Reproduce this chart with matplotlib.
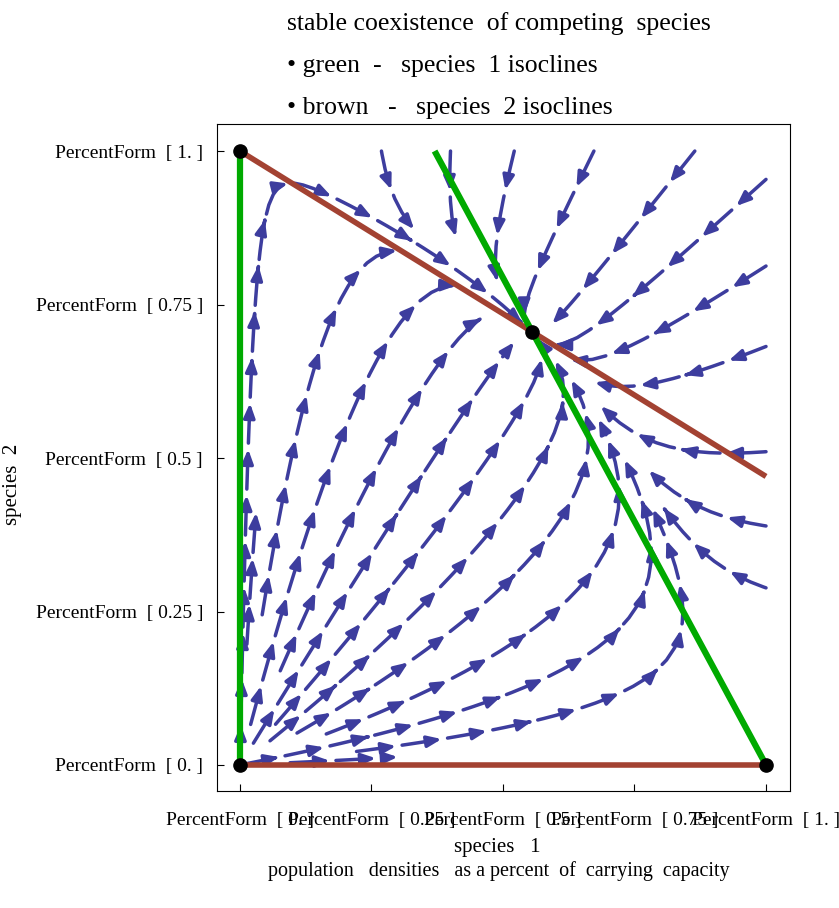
"""
Competing species (Lotka-Volterra competition) phase portrait:
stream lines of the scaled model with both sets of isoclines.
"""

import numpy as np
import matplotlib.pyplot as plt
from matplotlib.path import Path
from matplotlib.patches import FancyArrowPatch

plt.rcParams['font.family'] = ['Liberation Serif', 'DejaVu Serif']

#
#  Model parameters: competition coefficients and growth rates
#

alpha12 = 0.63      # effect of species 2 on species 1
alpha21 = 0.53      # effect of species 1 on species 2
r1 = 1.0
r2 = 1.0

#
#  Seed points for the stream lines: a fan out of the origin,
#  then the top edge and the right edge
#

seed_x = [0.008, 0.021, 0.052, 0.093, 0.136, 0.176, 0.212, 0.243, 0.267, 0.285, 0.294, 0.298, 0.300,
          0.27, 0.40, 0.52, 0.67, 0.86,
          0.995, 0.995, 0.995, 0.995, 0.995, 0.995]
seed_y = [0.300, 0.299, 0.295, 0.285, 0.267, 0.243, 0.212, 0.176, 0.136, 0.093, 0.057, 0.031, 0.013,
          0.995, 0.995, 0.995, 0.995, 0.995,
          0.95, 0.81, 0.68, 0.51, 0.39, 0.29]

#
#  Tick positions and text
#

tick_vals = [0, 0.25, 0.5, 0.75, 1]
tick_text = ['0.', '0.25', '0.5', '0.75', '1.']

title_lines = ['stable coexistence  of competing  species',
               '\u2022 green  -   species  1 isoclines',
               '\u2022 brown   -   species  2 isoclines']

stream_color = '#3d3d9e'
green = '#00aa00'
brown = '#a34232'

#
#  Vector field on the unit square
#

xs = np.linspace(0, 1, 120)
ys = np.linspace(0, 1, 120)
X, Y = np.meshgrid(xs, ys)
U = r1*X*(1 - X - alpha12*Y)
V = r2*Y*(1 - Y - alpha21*X)

#  Coexistence equilibrium
xe = (1 - alpha12)/(1 - alpha12*alpha21)
ye = 1 - alpha21*xe

fig = plt.figure(figsize=(8.39, 9.08), dpi=100)
ax = fig.add_axes([0.2586, 0.1289, 0.683, 0.7345])
ax.set_xlim(-0.0437, 1.0456)
ax.set_ylim(-0.0423, 1.044)

strm = ax.streamplot(X, Y, U, V, density=1.3, color=stream_color,
                     linewidth=2.5, start_points=np.column_stack([seed_x, seed_y]),
                     minlength=0.05, zorder=1)

#
#  Each stream line comes back as one polyline; redraw it as a run
#  of short arrows (dash + head) and drop the default arrows.
#

polylines = [np.asarray(s) for s in strm.lines.get_segments()]
strm.lines.remove()
for p in list(ax.patches):
    p.remove()

dash_px = 40
gap_px = 6

for pts in polylines:
    if pts[:, 0].max() < 0.01 or pts[:, 1].max() < 0.01:
        continue
    disp = ax.transData.transform(pts)
    d = np.r_[0, np.cumsum(np.hypot(*np.diff(disp, axis=0).T))]
    if d[-1] < 15:
        continue
    s0 = 0.0
    while s0 < d[-1] - 12:
        s1 = min(s0 + dash_px, d[-1])
        inner = (d > s0) & (d < s1)
        t = np.r_[s0, d[inner], s1]
        chunk = np.column_stack([np.interp(t, d, pts[:, 0]),
                                 np.interp(t, d, pts[:, 1])])
        arr = FancyArrowPatch(path=Path(chunk),
                              arrowstyle='-|>,head_length=0.6,head_width=0.24',
                              mutation_scale=14, color=stream_color, lw=2.5,
                              shrinkA=0, shrinkB=0, zorder=1)
        ax.add_patch(arr)
        s0 = s1 + gap_px

#  Species 2 isoclines: y = 0 and y = 1 - alpha21*x
ax.plot([0, 1], [0, 0], color=brown, lw=4, solid_capstyle='butt', zorder=3)
ax.plot([0, 1], [1, 1 - alpha21], color=brown, lw=4, solid_capstyle='butt', zorder=3)

#  Species 1 isoclines: x = 0 and x = 1 - alpha12*y
ax.plot([0, 0], [0, 1], color=green, lw=4.5, solid_capstyle='butt', zorder=4)
ax.plot([1, 1 - alpha12], [0, 1], color=green, lw=4.5, solid_capstyle='butt', zorder=4)

#  Equilibrium points
ax.plot([0, 0, 1, xe], [0, 1, 0, ye], 'o', color='black', ms=9.5, zorder=5)

labels = ['PercentForm  [ %s ]' % t for t in tick_text]
ax.set_xticks(tick_vals)
ax.set_xticklabels(labels)
ax.set_yticks(tick_vals)
ax.set_yticklabels(labels)
ax.tick_params(direction='in', length=5, labelsize=14)
ax.tick_params(axis='x', pad=15)
ax.tick_params(axis='y', pad=10)

ax.set_xlabel('species   1', fontsize=15)
ax.xaxis.set_label_coords(0.489, -0.070)
ax.set_ylabel('species  2', fontsize=15)
ax.yaxis.set_label_coords(-0.34, 0.46)

fig.text(0.595, 0.0407,
         'population   densities   as a percent  of  carrying  capacity',
         fontsize=14.5, ha='center', va='center')

for i, line in enumerate(title_lines):
    fig.text(0.342, 0.974 - i*0.0462, line, fontsize=18.5, va='center', ha='left')

fig.savefig('out.png', dpi=100)
